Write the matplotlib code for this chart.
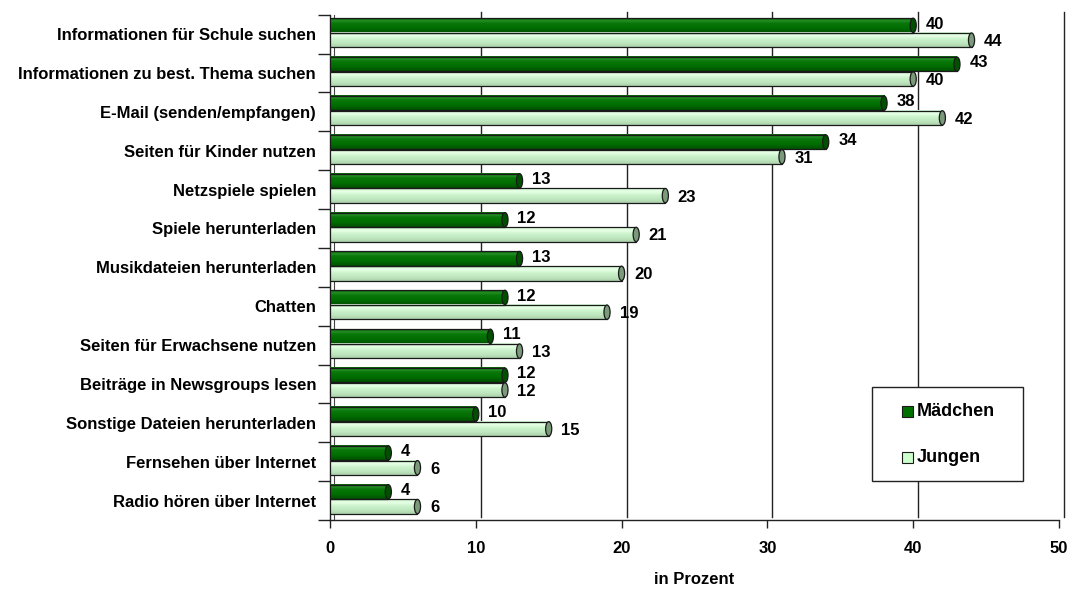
import matplotlib
matplotlib.use("Agg")
import matplotlib.pyplot as plt
import numpy as np
from matplotlib.patches import Ellipse, Rectangle
from matplotlib.colors import LinearSegmentedColormap
from matplotlib.transforms import ScaledTranslation

plt.rcParams['font.family'] = ['Liberation Sans', 'DejaVu Sans']
plt.rcParams['font.weight'] = 'bold'

categories = [
    "Informationen für Schule suchen",
    "Informationen zu best. Thema suchen",
    "E-Mail (senden/empfangen)",
    "Seiten für Kinder nutzen",
    "Netzspiele spielen",
    "Spiele herunterladen",
    "Musikdateien herunterladen",
    "Chatten",
    "Seiten für Erwachsene nutzen",
    "Beiträge in Newsgroups lesen",
    "Sonstige Dateien herunterladen",
    "Fernsehen über Internet",
    "Radio hören über Internet",
]
maedchen = [40, 43, 38, 34, 13, 12, 13, 12, 11, 12, 10, 4, 4]
jungen = [44, 40, 42, 31, 23, 21, 20, 19, 13, 12, 15, 6, 6]
series_names = ["Mädchen", "Jungen"]
x_ticks = [0, 10, 20, 30, 40, 50]

COL_M = "#007000"
COL_J = "#ccffcc"
FS = 12
W, H = 1073, 592
fig = plt.figure(figsize=(W / 100, H / 100), dpi=100)
ax = fig.add_axes([330 / W, 1 - 520 / H, (1059 - 330) / W, (520 - 14.7) / H])

n = len(categories)
ax.set_xlim(0, 50)
ax.set_ylim(n, 0)

# cylinder shading (top -> bottom)
cmap_m = LinearSegmentedColormap.from_list(
    "m", [(0, "#0a5c0a"), (0.18, "#269026"), (0.32, "#0a780a"), (0.7, "#006c00"), (1, "#005000")])
cmap_j = LinearSegmentedColormap.from_list(
    "j", [(0, "#d6fad6"), (0.25, "#e6ffe6"), (0.45, "#ccf4cc"), (0.75, "#bfe6bf"), (1, "#a9d0a9")])
grad = np.linspace(0, 1, 64).reshape(-1, 1)

bar_h = 0.37
off_m = 0.275
off_j = 0.655
cap_w = 0.42


def cylinder(y_c, val, cmap, cap_color):
    y0, y1 = y_c - bar_h / 2, y_c + bar_h / 2
    ax.imshow(grad, cmap=cmap, extent=(0, val, y1, y0), aspect="auto",
              origin="upper", zorder=3, interpolation="bilinear")
    ax.add_patch(Rectangle((0, y0), val, bar_h, fill=False, edgecolor="#1a1a1a",
                           lw=0.9, zorder=4))
    ax.add_patch(Ellipse((val, y_c), cap_w, bar_h, facecolor=cap_color,
                         edgecolor="#1a1a1a", lw=0.9, zorder=5))


for i in range(n):
    cylinder(i + off_m, maedchen[i], cmap_m, "#005000")
    cylinder(i + off_j, jungen[i], cmap_j, "#7a9a7a")
    ax.annotate(str(maedchen[i]), (maedchen[i], i + off_m), xytext=(9, 1),
                textcoords="offset points", ha="left", va="center",
                fontsize=FS, fontweight="bold", zorder=6)
    ax.annotate(str(jungen[i]), (jungen[i], i + off_j), xytext=(9, -1),
                textcoords="offset points", ha="left", va="center",
                fontsize=FS, fontweight="bold", zorder=6)

ax.set_xlim(0, 50)
ax.set_ylim(n, 0)

# back-wall gridlines shifted for depth
shift = ScaledTranslation(5 / 100, 3 / 100, fig.dpi_scale_trans)
for xv in x_ticks[1:]:
    ax.plot([xv, xv], [0, n], transform=ax.transData + shift, color="#222222",
            lw=1.0, zorder=1, clip_on=False)
ax.plot([0, 0], [0, n], transform=ax.transData + ScaledTranslation(4 / 100, 0, fig.dpi_scale_trans),
        color="#444444", lw=0.8, zorder=2, clip_on=False)

for s in ["top", "right"]:
    ax.spines[s].set_visible(False)
for s in ["left", "bottom"]:
    ax.spines[s].set_color("#222222")
    ax.spines[s].set_linewidth(1.0)

ax.set_xticks(x_ticks)
ax.set_xticklabels([str(v) for v in x_ticks], fontsize=FS, fontweight="bold")
ax.tick_params(axis="x", direction="out", length=6, width=1, pad=9, color="#222222")

ax.set_yticks(np.arange(n + 1))
ax.set_yticklabels([])
ax.set_yticks(np.arange(n) + 0.5, minor=True)
ax.set_yticklabels(categories, minor=True, fontsize=FS, fontweight="bold")
ax.tick_params(axis="y", which="major", direction="out", length=9, width=1, color="#222222")
ax.tick_params(axis="y", which="minor", length=0, pad=10)

ax.set_xlabel("in Prozent", fontsize=FS, fontweight="bold", labelpad=12)

# legend box in figure pixel space
def fx(px):
    return px / W


def fy(py):
    return 1 - py / H


fig.patches.append(Rectangle((fx(872), fy(481)), fx(1023) - fx(872), fy(387) - fy(481),
                             transform=fig.transFigure, facecolor="white",
                             edgecolor="#222222", lw=1.0, zorder=10))
for name, col, yc in zip(series_names, [COL_M, COL_J], [411, 457]):
    fig.patches.append(Rectangle((fx(902), fy(yc + 5.5)), fx(913) - fx(902), fy(yc - 5.5) - fy(yc + 5.5),
                                 transform=fig.transFigure, facecolor=col,
                                 edgecolor="#1a1a1a", lw=0.8, zorder=11))
    fig.text(fx(917), fy(yc), name, fontsize=13, fontweight="bold",
             ha="left", va="center", zorder=12)

fig.savefig("out.png", dpi=100)
